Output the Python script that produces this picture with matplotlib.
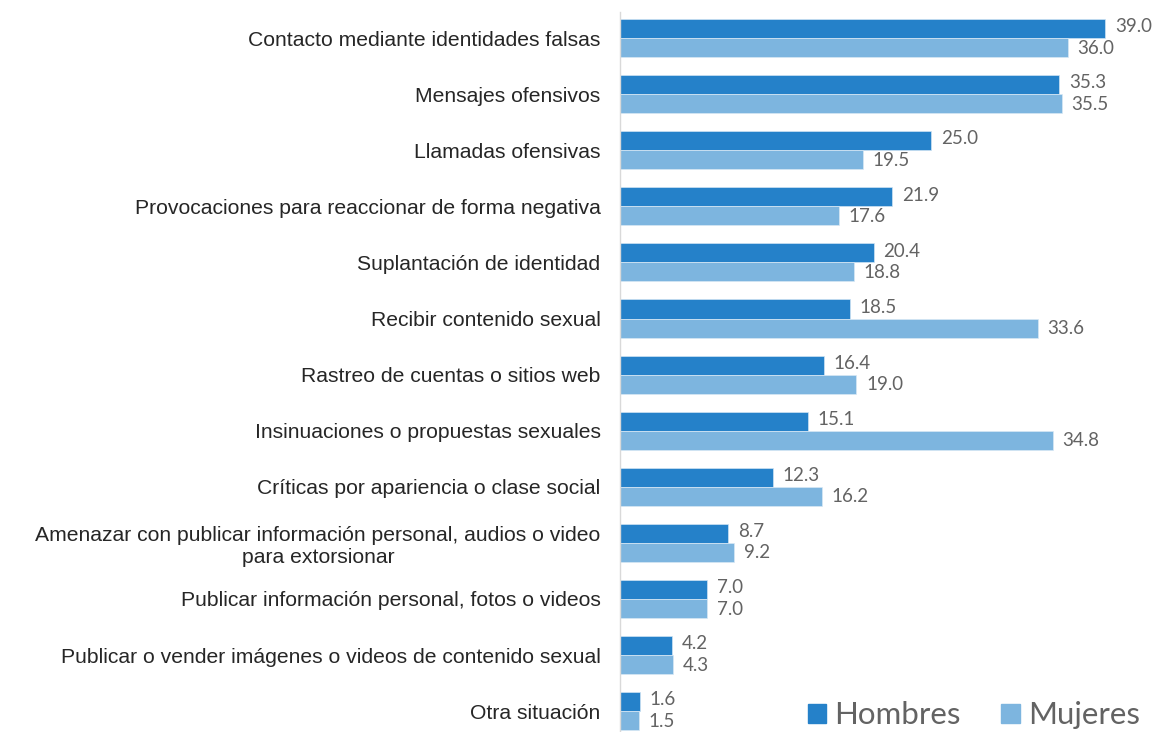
import matplotlib
matplotlib.use("Agg")
import matplotlib.pyplot as plt
from matplotlib.patches import Patch

categories = [
    "Contacto mediante identidades falsas",
    "Mensajes ofensivos",
    "Llamadas ofensivas",
    "Provocaciones para reaccionar de forma negativa",
    "Suplantación de identidad",
    "Recibir contenido sexual",
    "Rastreo de cuentas o sitios web",
    "Insinuaciones o propuestas sexuales",
    "Críticas por apariencia o clase social",
    "Amenazar con publicar información personal, audios o video\npara extorsionar",
    "Publicar información personal, fotos o videos",
    "Publicar o vender imágenes o videos de contenido sexual",
    "Otra situación",
]
hombres = [39.0, 35.3, 25.0, 21.9, 20.4, 18.5, 16.4, 15.1, 12.3, 8.7, 7.0, 4.2, 1.6]
mujeres = [36.0, 35.5, 19.5, 17.6, 18.8, 33.6, 19.0, 34.8, 16.2, 9.2, 7.0, 4.3, 1.5]
series_names = ["Hombres", "Mujeres"]

c_h = "#2581c9"
c_m = "#7db5df"
W, H = 1164, 732
fig = plt.figure(figsize=(W / 100, H / 100), dpi=100)
left_px, right_px, top_px = 620, 1150, 12
ax = fig.add_axes([left_px / W, 0, (right_px - left_px) / W, (H - top_px) / H])

bh = 0.34
ypos = list(range(len(categories)))
yh = [y - bh / 2 for y in ypos]
ym = [y + bh / 2 for y in ypos]
ax.barh(yh, hombres, height=bh, color=c_h, edgecolor="#cfe3f3", linewidth=0.5)
ax.barh(ym, mujeres, height=bh, color=c_m, edgecolor="#d8e8f5", linewidth=0.5)

spacing = 56.1
first = 38
ax.set_ylim((H - first) / spacing, (top_px - first) / spacing)
ax.set_xlim(0, (right_px - left_px) / 12.44)

for y, v in zip(yh, hombres):
    ax.annotate(f"{v:.1f}", (v, y - 0.03), xytext=(7, 0), textcoords="offset points",
                va="center", ha="left", fontsize=13.5, color="#636363", family="Lato")
for y, v in zip(ym, mujeres):
    ax.annotate(f"{v:.1f}", (v, y + 0.01), xytext=(7, 0), textcoords="offset points",
                va="center", ha="left", fontsize=13.5, color="#636363", family="Lato")

ax.set_yticks(ypos)
ax.set_yticklabels(categories, fontsize=15.2, color="#262626", family="Liberation Sans",
                   multialignment="center", linespacing=1.2)
ax.tick_params(axis="y", length=0, pad=14)
ax.set_xticks([])
for s in ["top", "right", "bottom"]:
    ax.spines[s].set_visible(False)
ax.spines["left"].set_color("#d9d9d9")
ax.spines["left"].set_linewidth(1)

handles = [Patch(color=c_h, label=series_names[0]), Patch(color=c_m, label=series_names[1])]
leg = fig.legend(handles=handles, loc="lower right", bbox_to_anchor=(1168 / W, -0.035),
                 ncol=2, frameon=False, handlelength=0.6, handleheight=0.6,
                 handletextpad=0.25, columnspacing=1.3, prop={"family": "Lato", "size": 22.5})
for t in leg.get_texts():
    t.set_color("#636363")

fig.savefig("out.png", dpi=100)
